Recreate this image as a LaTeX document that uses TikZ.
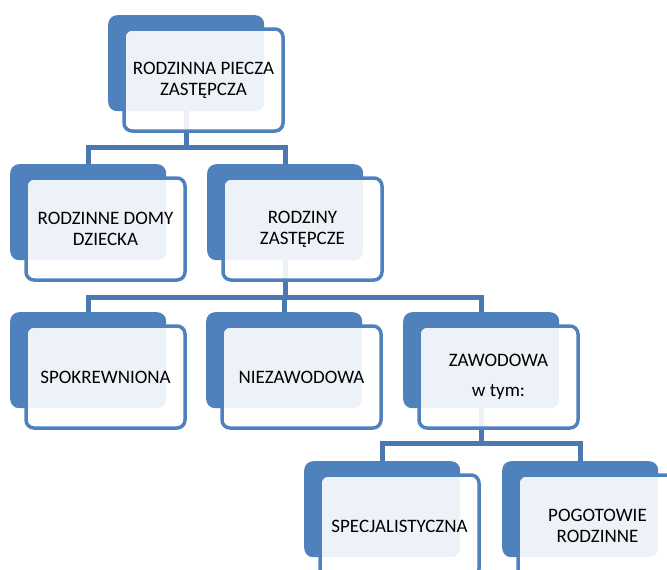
\documentclass[tikz,border=0pt]{standalone}
\usepackage{fontspec}
\setmainfont{Carlito}
\pgfdeclarelayer{bg}
\pgfsetlayers{bg,main}
\definecolor{accent}{HTML}{4F81BD}
\definecolor{conncol}{HTML}{4A78B0}
\tikzset{
  backbox/.style={rectangle, rounded corners=9pt, fill=accent, minimum width=156pt, minimum height=96pt, anchor=north west, inner sep=0pt},
  frontbox/.style={rectangle, rounded corners=8pt, draw=accent, line width=3.5pt, fill=white, fill opacity=0.9, text opacity=1, minimum width=159pt, minimum height=102pt, inner sep=0pt, align=center, font=\fontsize{19}{21}\selectfont},
  conn/.style={draw=conncol, line width=5pt},
}
\begin{document}
\begin{tikzpicture}[x=1pt,y=-1pt]
\useasboundingbox (0,0) rectangle (667,570);
\clip (0,0) rectangle (667,570);
% back boxes
\node[backbox] (b1) at (108,15) {};
\node[backbox] (b2) at (10,164) {};
\node[backbox] (b3) at (207,164) {};
\node[backbox] (b4) at (10,312) {};
\node[backbox] (b5) at (206,312) {};
\node[backbox] (b6) at (403,312) {};
\node[backbox] (b7) at (304,461) {};
\node[backbox] (b8) at (502,461) {};
% front boxes
\node[frontbox] (f1) at (203.5,80) {RODZINNA PIECZA\\ZASTĘPCZA};
\node[frontbox] (f2) at (105.5,229) {RODZINNE DOMY\\DZIECKA};
\node[frontbox] (f3) at (302.5,229) {RODZINY\\ZASTĘPCZE};
\node[frontbox] (f4) at (105.5,377) {SPOKREWNIONA};
\node[frontbox] (f5) at (301.5,377) {NIEZAWODOWA};
\node[frontbox] (f6) at (498.5,377) {ZAWODOWA\\[9pt]w tym:};
\node[frontbox] (f7) at (399.5,526) {SPECJALISTYCZNA};
\node[frontbox] (f8) at (597.5,526) {POGOTOWIE\\RODZINNE};
% bars
\coordinate (bar1) at (0,147.5);
\coordinate (bar2) at (0,297);
\coordinate (bar3) at (0,443);
\begin{pgfonlayer}{bg}
\draw[conn] (b1.south) -- (b1.south |- bar1) -| (b2.north);
\draw[conn] (b1.south) -- (b1.south |- bar1) -| (b3.north);
\draw[conn] (b3.south) -- (b3.south |- bar2) -| (b4.north);
\draw[conn] (b3.south) -- (b3.south |- bar2) -| (b5.north);
\draw[conn] (b3.south) -- (b3.south |- bar2) -| (b6.north);
\draw[conn] (b6.south) -- (b6.south |- bar3) -| (b7.north);
\draw[conn] (b6.south) -- (b6.south |- bar3) -| (b8.north);
\end{pgfonlayer}
\end{tikzpicture}
\end{document}
